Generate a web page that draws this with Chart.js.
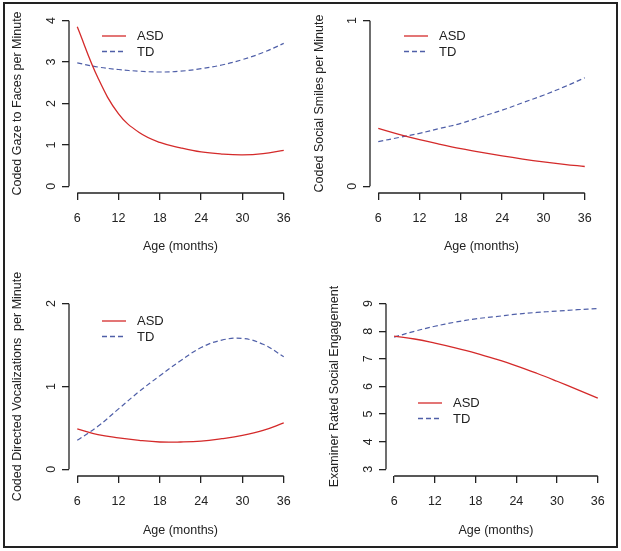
<!DOCTYPE html>
<html>
<head>
<meta charset="utf-8">
<script src="https://cdn.jsdelivr.net/npm/chart.js@4.4.1/dist/chart.umd.min.js"></script>
<style>
  html, body { margin: 0; padding: 0; background: #fff; }
  #frame { position: absolute; left: 3px; top: 2px; width: 611px; height: 542px; border: 2px solid #222; }
  .panel { position: absolute; }
  #p1 { left: 4px; top: 4px; }
  #p2 { left: 310px; top: 4px; }
  #p3 { left: 4px; top: 270px; }
  #p4 { left: 310px; top: 270px; }
</style>
</head>
<body>
<div id="frame"></div>
<canvas id="p1" class="panel" width="306" height="266"></canvas>
<canvas id="p2" class="panel" width="306" height="266"></canvas>
<canvas id="p3" class="panel" width="306" height="276"></canvas>
<canvas id="p4" class="panel" width="306" height="276"></canvas>
<script>
// ages (months)
const ages = [6, 9, 12, 15, 18, 21, 24, 27, 30, 33, 36];
const xTicks = [6, 12, 18, 24, 30, 36];

// Coded gaze to faces per minute
const gazeASD = [3.85, 2.62, 1.75, 1.30, 1.06, 0.93, 0.83, 0.78, 0.76, 0.79, 0.87];
const gazeTD  = [2.98, 2.88, 2.82, 2.78, 2.76, 2.78, 2.84, 2.93, 3.06, 3.23, 3.45];
const gazeTicks = [0, 1, 2, 3, 4];

// Coded social smiles per minute
const smileASD = [0.35, 0.314, 0.282, 0.254, 0.228, 0.205, 0.184, 0.165, 0.148, 0.133, 0.12];
const smileTD  = [0.27, 0.295, 0.32, 0.35, 0.38, 0.42, 0.46, 0.505, 0.55, 0.60, 0.655];
const smileTicks = [0, 1];

// Coded directed vocalizations per minute
const vocASD = [0.49, 0.42, 0.38, 0.35, 0.33, 0.33, 0.34, 0.37, 0.41, 0.47, 0.56];
const vocTD  = [0.35, 0.52, 0.73, 0.94, 1.13, 1.31, 1.47, 1.56, 1.58, 1.51, 1.36];
const vocTicks = [0, 1, 2];

// Examiner rated social engagement
const engASD = [7.82, 7.72, 7.57, 7.40, 7.21, 6.99, 6.75, 6.48, 6.19, 5.89, 5.58];
const engTD  = [7.79, 8.00, 8.18, 8.33, 8.45, 8.53, 8.62, 8.68, 8.73, 8.78, 8.82];
const engTicks = [3, 4, 5, 6, 7, 8, 9];

const RED = '#d42a2a';
const BLUE = '#4f5fa8';
const FONT = '"Liberation Sans", Arial, sans-serif';

// draws R-style axis lines, rotated y labels and the legend
const rAxes = {
    id: 'rAxes',
    afterDraw(chart, args, opts) {
        const ctx = chart.ctx;
        const xs = chart.scales.x, ys = chart.scales.y;
        const area = chart.chartArea;
        ctx.save();
        ctx.strokeStyle = '#222';
        ctx.lineWidth = 1.3;
        ctx.beginPath();
        ctx.moveTo(xs.getPixelForValue(opts.xt[0]), area.bottom);
        ctx.lineTo(xs.getPixelForValue(opts.xt[opts.xt.length - 1]), area.bottom);
        ctx.moveTo(area.left, ys.getPixelForValue(opts.yt[0]));
        ctx.lineTo(area.left, ys.getPixelForValue(opts.yt[opts.yt.length - 1]));
        ctx.stroke();

        ctx.fillStyle = '#222';
        ctx.font = '12.5px ' + FONT;
        ctx.textAlign = 'center';
        ctx.textBaseline = 'middle';
        opts.yt.forEach(v => {
            ctx.save();
            ctx.translate(area.left - 17, ys.getPixelForValue(v));
            ctx.rotate(-Math.PI / 2);
            ctx.fillText(String(v), 0, 0);
            ctx.restore();
        });

        // legend
        const lg = opts.legend;
        const items = [['ASD', RED, []], ['TD', BLUE, [5, 3]]];
        items.forEach((it, i) => {
            const y = lg.y + i * 15.5;
            ctx.strokeStyle = it[1];
            ctx.lineWidth = 1.3;
            ctx.setLineDash(it[2]);
            ctx.beginPath();
            ctx.moveTo(lg.x, y);
            ctx.lineTo(lg.x + 24, y);
            ctx.stroke();
            ctx.setLineDash([]);
            ctx.fillStyle = '#222';
            ctx.textAlign = 'left';
            ctx.font = '13px ' + FONT;
            ctx.fillText(it[0], lg.x + 35, y + 0.5);
        });
        ctx.restore();
    }
};

function makePanel(id, asd, td, yt, yTitle, cfg) {
    const yPad = (yt[yt.length - 1] - yt[0]) * 0.04;
    const xPad = (36 - 6) * 0.04;
    const ctx = document.getElementById(id).getContext('2d');
    return new Chart(ctx, {
        type: 'line',
        data: {
            datasets: [{
                label: 'ASD',
                data: ages.map((a, i) => ({ x: a, y: asd[i] })),
                borderColor: RED,
                borderWidth: 1.3,
                pointRadius: 0,
                tension: 0.4
            }, {
                label: 'TD',
                data: ages.map((a, i) => ({ x: a, y: td[i] })),
                borderColor: BLUE,
                borderWidth: 1.2,
                borderDash: [5, 3],
                pointRadius: 0,
                tension: 0.4
            }]
        },
        options: {
            responsive: false,
            animation: false,
            events: [],
            layout: { padding: { top: cfg.top, right: cfg.right, left: 0, bottom: 0 } },
            scales: {
                x: {
                    type: 'linear',
                    min: 6 - xPad,
                    max: 36 + xPad,
                    afterBuildTicks: s => { s.ticks = xTicks.map(v => ({ value: v })); },
                    afterFit: s => { s.height = cfg.xh; },
                    grid: { drawOnChartArea: false, drawTicks: true, tickLength: 7, color: '#222', lineWidth: 1.3 },
                    border: { display: false },
                    ticks: { color: '#222', padding: 11, maxRotation: 0, font: { family: FONT, size: 12.5 } },
                    title: {
                        display: true,
                        text: 'Age (months)',
                        color: '#222',
                        font: { family: FONT, size: 12.5 },
                        padding: { top: 0, bottom: cfg.xtb }
                    }
                },
                y: {
                    min: yt[0] - yPad,
                    max: yt[yt.length - 1] + yPad,
                    afterBuildTicks: s => { s.ticks = yt.map(v => ({ value: v })); },
                    afterFit: s => { s.width = cfg.yw; },
                    grid: { drawOnChartArea: false, drawTicks: true, tickLength: 7, color: '#222', lineWidth: 1.3 },
                    border: { display: false },
                    ticks: { display: false },
                    title: {
                        display: true,
                        text: yTitle,
                        color: '#222',
                        font: { family: FONT, size: 12.5 },
                        padding: { top: cfg.ytt, bottom: 0 }
                    }
                }
            },
            plugins: {
                legend: { display: false },
                tooltip: { enabled: false },
                rAxes: { xt: xTicks, yt: yt, legend: cfg.legend }
            }
        },
        plugins: [rAxes]
    });
}

makePanel('p1', gazeASD, gazeTD, gazeTicks, 'Coded Gaze to Faces per Minute',
    { top: 10, right: 18, xh: 77, yw: 65, xtb: 15.5, ytt: 6, legend: { x: 98, y: 32 } });
makePanel('p2', smileASD, smileTD, smileTicks, 'Coded Social Smiles per Minute',
    { top: 10, right: 23, xh: 77, yw: 60, xtb: 15.5, ytt: 2, legend: { x: 94, y: 32 } });
makePanel('p3', vocASD, vocTD, vocTicks, 'Coded Directed Vocalizations  per Minute',
    { top: 27, right: 18, xh: 70, yw: 65, xtb: 7.5, ytt: 6, legend: { x: 98, y: 51 } });
makePanel('p4', engASD, engTD, engTicks, 'Examiner Rated Social Engagement',
    { top: 27, right: 7, xh: 70, yw: 76, xtb: 7.5, ytt: 17, legend: { x: 108, y: 133 } });
</script>
</body>
</html>
